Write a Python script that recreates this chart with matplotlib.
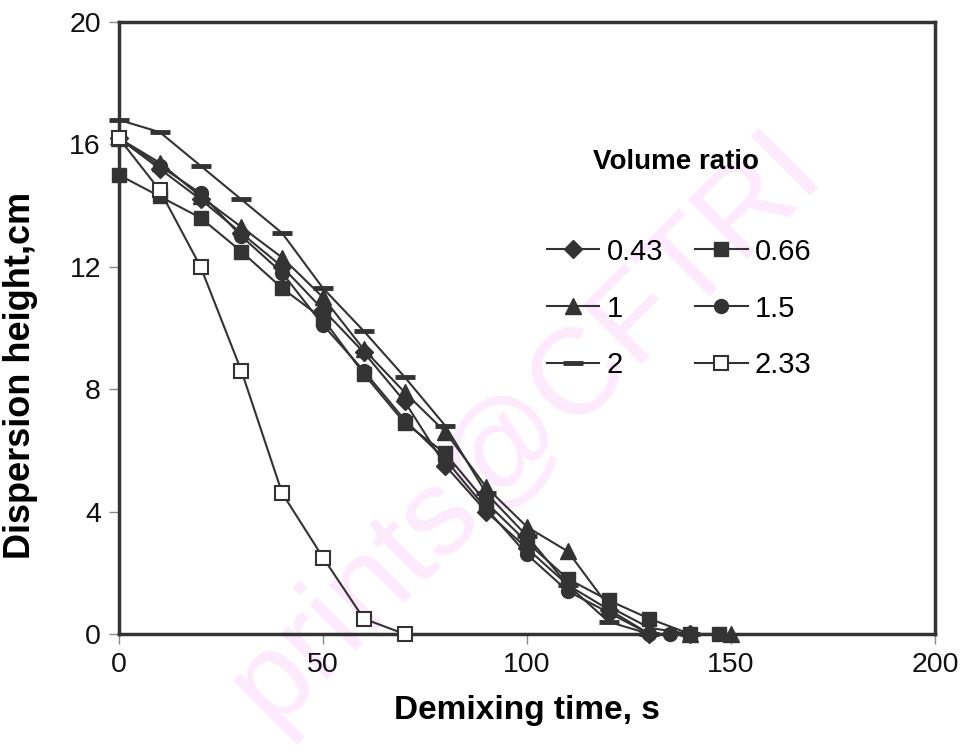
import matplotlib
matplotlib.use("Agg")
import matplotlib.pyplot as plt

plt.rcParams['font.family'] = ['Liberation Sans', 'DejaVu Sans']

# ---- data ----
x_043 = [0, 10, 20, 30, 40, 50, 60, 70, 80, 90, 100, 110, 120, 130, 140]
y_043 = [16.2, 15.2, 14.2, 13.1, 12.0, 10.6, 9.2, 7.6, 5.5, 4.0, 2.8, 1.6, 0.8, 0.0, 0.0]

x_066 = [0, 10, 20, 30, 40, 50, 60, 70, 80, 90, 100, 110, 120, 130, 140, 147]
y_066 = [15.0, 14.3, 13.6, 12.5, 11.3, 10.3, 8.5, 6.9, 5.9, 4.3, 3.0, 1.8, 1.1, 0.5, 0.0, 0.0]

x_1 = [0, 10, 20, 30, 40, 50, 60, 70, 80, 90, 100, 110, 120, 130, 140, 150]
y_1 = [16.2, 15.4, 14.3, 13.3, 12.3, 11.0, 9.3, 7.9, 6.6, 4.8, 3.5, 2.7, 0.9, 0.2, 0.0, 0.0]

x_15 = [0, 10, 20, 30, 40, 50, 60, 70, 80, 90, 100, 110, 120, 130, 135]
y_15 = [16.2, 15.3, 14.4, 13.0, 11.8, 10.1, 8.6, 7.0, 5.7, 4.1, 2.6, 1.4, 0.7, 0.0, 0.0]

x_2 = [0, 10, 20, 30, 40, 50, 60, 70, 80, 90, 100, 110, 120, 130, 140]
y_2 = [16.8, 16.4, 15.3, 14.2, 13.1, 11.3, 9.9, 8.4, 6.8, 4.6, 3.2, 1.6, 0.4, 0.0, 0.0]

x_233 = [0, 10, 20, 30, 40, 50, 60, 70]
y_233 = [16.2, 14.5, 12.0, 8.6, 4.6, 2.5, 0.5, 0.0]

labels = ['0.43', '0.66', '1', '1.5', '2', '2.33']
x_ticks = [0, 50, 100, 150, 200]
y_ticks = [0, 4, 8, 12, 16, 20]

dark = '#333333'

fig = plt.figure(figsize=(9.64, 7.51), dpi=100)
ax = fig.add_axes([119/964, 1-634/751, (935-119)/964, (634-22)/751])

# watermark
fig.text(0.545, 0.43, 'prints@CFTRI', fontsize=88, color='#fdeafd', rotation=45,
         ha='center', va='center', zorder=-1)
ax.patch.set_alpha(0)

series = [
    (x_043, y_043, dict(marker='D', markersize=9, mfc=dark, mec=dark)),
    (x_066, y_066, dict(marker='s', markersize=10, mfc=dark, mec=dark)),
    (x_1, y_1, dict(marker='^', markersize=11, mfc=dark, mec=dark)),
    (x_15, y_15, dict(marker='o', markersize=10, mfc=dark, mec=dark)),
    (x_2, y_2, dict(marker='_', markersize=14, mew=3.5, mfc=dark, mec=dark)),
    (x_233, y_233, dict(marker='s', markersize=10, mfc='white', mec=dark, mew=1.5)),
]
handles = []
for (xs, ys, st), lab in zip(series, labels):
    h, = ax.plot(xs, ys, color=dark, lw=1.5, label=lab, clip_on=False, zorder=3, **st)
    handles.append(h)

ax.set_xlim(0, 200)
ax.set_ylim(0, 20)
ax.set_xticks(x_ticks)
ax.set_yticks(y_ticks)
for s in ax.spines.values():
    s.set_linewidth(2.5)
    s.set_color(dark)
ax.tick_params(direction='out', length=7, width=1, color='#888888', labelsize=20.5,
               labelcolor='#111111', pad=6)

ax.set_xlabel('Demixing time, s', fontsize=24, fontweight='bold', labelpad=12)
ax.set_ylabel('Dispersion height,cm', fontsize=26, fontweight='bold')
ax.yaxis.set_label_coords(-0.099, (634-375)/612)

order = [0, 2, 4, 1, 3, 5]
leg = ax.legend([handles[i] for i in order], [labels[i] for i in order], ncol=2,
                frameon=False, fontsize=21, loc='upper left',
                bbox_to_anchor=(535/964, 1-226/751), bbox_transform=fig.transFigure,
                handlelength=1.8, handletextpad=0.25,
                columnspacing=1.1, labelspacing=0.99, borderaxespad=0)
fig.text(676/964, 1-162/751, 'Volume ratio', fontsize=20, fontweight='bold',
         ha='center', va='center')

fig.savefig('out.png', dpi=100)
